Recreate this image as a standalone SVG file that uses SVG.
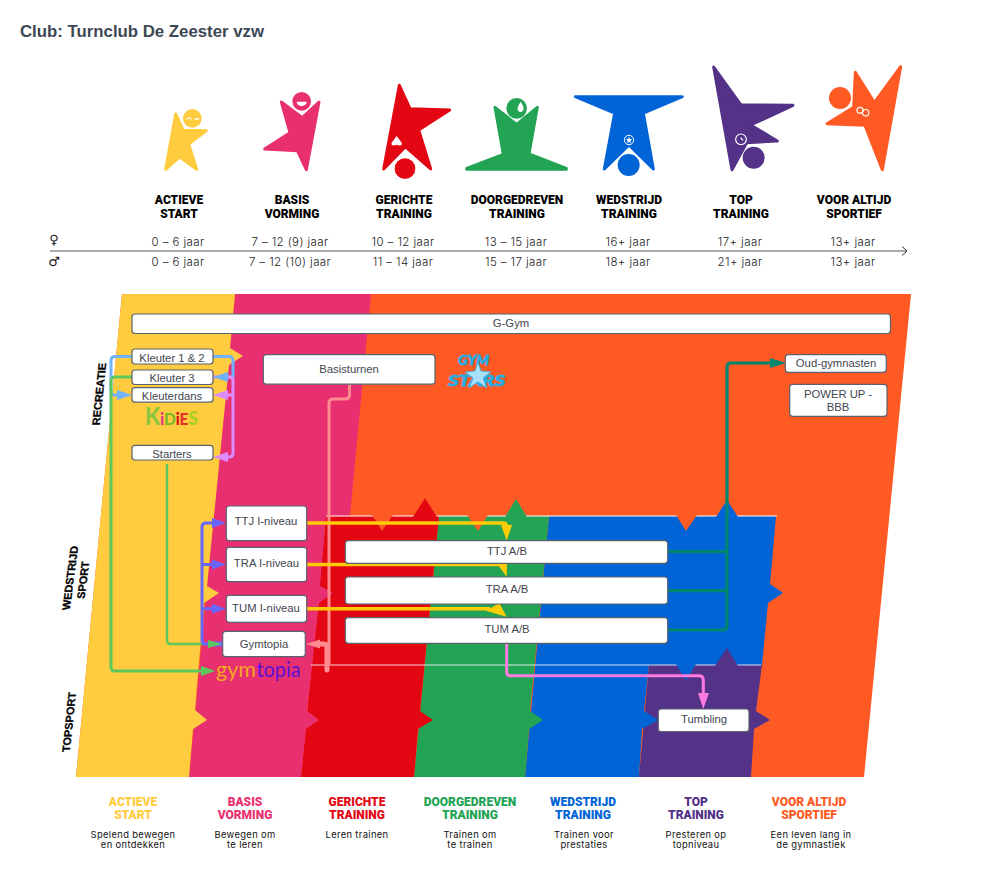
<svg xmlns="http://www.w3.org/2000/svg" width="991" height="888" viewBox="0 0 991 888">
<defs>
<style>
.box{fill:#fff;stroke:#5a6270;stroke-width:1.2}
.bt{font-family:"Liberation Sans",Arial,sans-serif;font-size:11.3px;fill:#3f4650;text-anchor:middle}
.hd{font-family:Roboto,"Liberation Sans",sans-serif;font-weight:900;font-size:12px;text-anchor:middle}
.age{font-family:Inter,"Noto Sans",sans-serif;font-weight:300;font-size:11.5px;letter-spacing:.4px;fill:#222;text-anchor:middle}
.ds{font-family:Inter,"Noto Sans",sans-serif;font-weight:400;font-size:9.4px;letter-spacing:.35px;fill:#111;text-anchor:middle}
.side{font-family:"Liberation Sans",Arial,sans-serif;font-weight:bold;font-size:11px;fill:#000;stroke:#000;stroke-width:.3;text-anchor:middle}
.c{fill:none;stroke-linejoin:round}
.fig{stroke-linejoin:round;stroke-width:9}
</style>
</defs>
<rect width="991" height="888" fill="#fff"/>
<text x="20" y="37" font-family="Liberation Sans,Arial,sans-serif" font-weight="bold" font-size="16.8" fill="#3d4854">Club: Turnclub De Zeester vzw</text>

<g id="figures" transform="translate(0,50) scale(0.33333)">
<g id="fig-actieve" fill="#ffcb3f" stroke="#ffcb3f">
<polygon class="fig" points="527,192 550,241 619,242 566,282 590,358 539,321 497,358"/>
<circle cx="577" cy="205" r="28" stroke="none"/>
<path d="M560,208q7,-9 14,0M584,207h13" fill="none" stroke="#fff" stroke-width="4"/>
</g>
<g id="fig-basis" fill="#e83070" stroke="#e83070">
<polygon class="fig" points="844,156 907,203 957,156 919,359 892,302 794,297 870,248"/>
<circle cx="905" cy="154" r="28" stroke="none"/>
<path d="M890,155h30a15,13 0 0 1 -30,0z" fill="#fff" stroke="none"/>
</g>
<g id="fig-gericht" fill="#e30613" stroke="#e30613">
<polygon class="fig" points="1198,106 1230,176 1349,180 1256,240 1292,357 1216,290 1151,357"/>
<circle cx="1215" cy="356" r="31" stroke="none"/>
<path d="M1190,258l15,20q3,10 -10,8l-5,-2l-5,2q-13,2 -10,-8z" fill="#fff" stroke="none"/>
</g>
<g id="fig-doorgedreven" fill="#23a455" stroke="#23a455" transform="translate(1470,0)">
<polygon class="fig" points="15,172 80,223 142,172 117,312 229,355 229,358 -70,358 -70,355 40,313"/>
<circle cx="80" cy="175" r="31" stroke="none"/>
<path d="M92,155q12,18 8,25a9,9 0 0 1 -17,0q-2,-8 9,-25z" fill="#fff" stroke="none"/>
</g>
<g id="fig-wedstrijd" fill="#0063d6" stroke="#0063d6" transform="translate(1470,0)">
<polygon class="fig" points="256,140 577,140 460,189 490,357 417,285 343,357 374,189"/>
<circle cx="416" cy="345" r="33" stroke="none"/>
<circle cx="417" cy="270" r="14" fill="none" stroke="#fff" stroke-width="3"/>
<polygon points="417,260 420,267 427,268 421,273 423,280 417,276 411,280 413,273 407,268 414,267" fill="#fff" stroke="none"/>
</g>
<g id="fig-top" fill="#533288" stroke="#533288" transform="translate(1470,0)">
<polygon class="fig" points="671,51 752,164 909,166 782,225 862,273 770,278 726,359"/>
<circle cx="791" cy="323" r="33" stroke="none"/>
<circle cx="753" cy="268" r="16" fill="#533288" stroke="#fff" stroke-width="3.5"/>
<path d="M752,263l7,8" stroke="#fff" stroke-width="4" fill="none"/>
</g>
<g id="fig-altijd" fill="#ff5a24" stroke="#ff5a24" transform="translate(1470,0)">
<polygon class="fig" points="1096,67 1153,158 1232,50 1177,359 1125,226 1011,221 1091,172"/>
<circle cx="1050" cy="144" r="33" stroke="none"/>
<circle cx="1110" cy="181" r="9" fill="none" stroke="#fff" stroke-width="3.500"/>
<circle cx="1127" cy="188" r="9.500" fill="none" stroke="#fff" stroke-width="3.500"/>
</g>
</g>

<g id="headings">
<text class="hd" x="179" y="204">ACTIEVE</text><text class="hd" x="179" y="218">START</text>
<text class="hd" x="292" y="204">BASIS</text><text class="hd" x="292" y="218">VORMING</text>
<text class="hd" x="404" y="204">GERICHTE</text><text class="hd" x="404" y="218">TRAINING</text>
<text class="hd" x="517" y="204">DOORGEDREVEN</text><text class="hd" x="517" y="218">TRAINING</text>
<text class="hd" x="629" y="204">WEDSTRIJD</text><text class="hd" x="629" y="218">TRAINING</text>
<text class="hd" x="741" y="204">TOP</text><text class="hd" x="741" y="218">TRAINING</text>
<text class="hd" x="854" y="204">VOOR ALTIJD</text><text class="hd" x="854" y="218">SPORTIEF</text>
</g>

<g id="axis">
<path d="M50,251H906" stroke="#8c8c8c" stroke-width="1.5" fill="none"/>
<path d="M902,246.500L907,251L902,255.500" stroke="#333" stroke-width="1" fill="none"/>
<text x="54" y="244" font-family="DejaVu Sans,sans-serif" font-size="13" text-anchor="middle" fill="#222">♀</text>
<text x="54" y="266" font-family="DejaVu Sans,sans-serif" font-size="13" text-anchor="middle" fill="#222">♂</text>
<g>
<text class="age" x="178" y="246">0 – 6 jaar</text><text class="age" x="178" y="266">0 – 6 jaar</text>
<text class="age" x="290" y="246">7 – 12 (9) jaar</text><text class="age" x="290" y="266">7 – 12 (10) jaar</text>
<text class="age" x="403" y="246">10 – 12 jaar</text><text class="age" x="403" y="266">11 – 14 jaar</text>
<text class="age" x="516" y="246">13 – 15 jaar</text><text class="age" x="516" y="266">15 – 17 jaar</text>
<text class="age" x="628" y="246">16+ jaar</text><text class="age" x="628" y="266">18+ jaar</text>
<text class="age" x="740" y="246">17+ jaar</text><text class="age" x="740" y="266">21+ jaar</text>
<text class="age" x="853" y="246">13+ jaar</text><text class="age" x="853" y="266">13+ jaar</text>
</g>
</g>

<g id="bands">
<polygon fill="#ff5a24" points="122,294 911,294 864,777 76,777"/>
<polygon fill="#533288" points="649,665 762,665 756,711 770,720 754,729 751,777 639,777"/>
<polygon fill="#0063d6" points="549,516 776,516 770,584 783,593 768,603 762,665 649,665 644,711 658,720 642,729 639,777 525,777"/>
<polygon fill="#23a455" points="439,516 549,516 530,711 543,720 529,729 525,777 414,777"/>
<polygon fill="#e30613" points="326,516 439,516 420,711 433,720 418,729 414,777 301,777"/>
<polygon fill="#e83070" points="235,294 371,294 350,516 326,516 320,586 333,593 319,603 307,711 319,720 306,729 301,777 189,777"/>
<polygon fill="#ffcb3f" points="122,294 235,294 230,348 243,356 229,365 207,586 219,593 204,603 195,710 207,720 193,729 189,777 76,777"/>
<path d="M326,516H777" stroke="#fff" stroke-width="1" fill="none"/>
<path d="M311,665H761" stroke="#fff" stroke-opacity=".55" stroke-width="1.5" fill="none"/>
<polygon fill="#ff5a24" points="372,515 393,515 382,531"/>
<polygon fill="#ff5a24" points="467,515 488,515 478,531"/>
<polygon fill="#ff5a24" points="676,515 697,515 686,531"/>
<polygon fill="#e30613" points="413,517 437,517 425,498"/>
<polygon fill="#23a455" points="505,517 527,517 516,499"/>
<polygon fill="#0063d6" points="716,517 738,517 727,500"/>
<polygon fill="#0063d6" points="676,664 696,664 686,680"/>
<polygon fill="#533288" points="715,666 738,666 727,648"/>
</g>

<g id="connectors">
<g class="c">
<path d="M349.500,384V395Q349.500,399 345,399H333Q329,399 329,403V664" stroke="#ff8a8f" stroke-width="3"/>
<path d="M318,644H324Q327,644 327,648V670" stroke="#ff8a8f" stroke-width="5" stroke-linecap="round"/>
<path d="M132,356.500H115Q111,356.500 111,361V391Q111,395 115,395H120" stroke="#70b2ff" stroke-width="3"/>
<path d="M213,356.500H229Q233,356.500 233,361V377H225" stroke="#70b2ff" stroke-width="3"/>
<path d="M132,377H115Q111,377 111,381V667Q111,671 115,671H204" stroke="#5cc85e" stroke-width="3"/>
<path d="M167,464V640Q167,644 171,644H212" stroke="#5cc85e" stroke-width="2.500"/>
<path d="M213,377H229Q233,377 233,381V453Q233,457 229,457H224M233,395H224" stroke="#dd8cff" stroke-width="3"/>
<path d="M223,644H206Q202,644 202,640V527Q202,523 206,523H214M202,564.500H214M202,608.700H214" stroke="#6767ff" stroke-width="3"/>
<path d="M208,644H223" stroke="#6767ff" stroke-width="5"/>
<path d="M306.700,523H503Q506.700,523 506.700,527V528" stroke="#ffcb05" stroke-width="3.400"/>
<path d="M306.700,564.500H503" stroke="#ffcb05" stroke-width="3.400"/>
<path d="M306.700,608.700H490" stroke="#ffcb05" stroke-width="3.400"/>
<path d="M506.700,643.300V672Q506.700,675.700 510,675.700H699Q703.300,675.700 703.300,680V695" stroke="#ff7ae0" stroke-width="3"/>
<path d="M668,551.700H727M668,590.700H727M668,630H723Q727,630 727,626V367Q727,363 731,363H772" stroke="#008570" stroke-width="3.200"/>
</g>
<polygon fill="#70b2ff" points="132,395 117,390 117,400"/>
<polygon fill="#70b2ff" points="213,377 228,372 228,382"/>
<polygon fill="#dd8cff" points="213,395 228,390 228,400"/>
<polygon fill="#dd8cff" points="213,457 228,452 228,462"/>
<polygon fill="#5cc85e" points="215.500,671 201,666 201,676"/>
<polygon fill="#5cc85e" points="222,644 208,640 208,648"/>
<polygon fill="#6767ff" points="226,523 212,518 212,528"/>
<polygon fill="#6767ff" points="226,564.500 212,559.500 212,569.500"/>
<polygon fill="#6767ff" points="226,608.700 212,603.700 212,613.700"/>
<polygon fill="#ffcb05" points="506.700,540.500 501,525 512,525"/>
<polygon fill="#ffcb05" points="506.700,576.700 498,565 507,561.700"/>
<polygon fill="#ffcb05" points="506.700,616.700 499.300,603.300 485.700,610.700"/>
<polygon fill="#ff7ae0" points="703.300,709 698,693 709,693"/>
<polygon fill="#008570" points="786,363 770,358 770,368"/>
<polygon fill="#ff8a8f" points="306,644 320,639.500 320,648.500"/>
</g>

<g id="n-ggym"><rect class="box" x="132" y="314" width="758.500" height="19.500" rx="3"/><text class="bt" x="511" y="327">G-Gym</text></g>
<g id="n-kleuter12"><rect class="box" x="132" y="349" width="81" height="15" rx="3"/><text class="bt" x="172" y="361.500">Kleuter 1 &amp; 2</text></g>
<g id="n-kleuter3"><rect class="box" x="132" y="370" width="81" height="14.500" rx="3"/><text class="bt" x="172" y="382">Kleuter 3</text></g>
<g id="n-kleuterdans"><rect class="box" x="132" y="387.700" width="81" height="14.500" rx="3"/><text class="bt" x="172" y="400">Kleuterdans</text></g>
<g id="n-starters"><rect class="box" x="132" y="445.300" width="81" height="14.700" rx="3"/><text class="bt" x="172" y="457.500">Starters</text></g>
<g id="n-basisturnen"><rect class="box" x="263.300" y="354.700" width="171.700" height="29.500" rx="3"/><text class="bt" x="349" y="372.500">Basisturnen</text></g>
<g id="n-ttji"><rect class="box" x="226.300" y="506" width="80.400" height="34.700" rx="3"/><text class="bt" x="266" y="525">TTJ I-niveau</text></g>
<g id="n-trai"><rect class="box" x="226.300" y="547.300" width="80.400" height="34.400" rx="3"/><text class="bt" x="266.500" y="566.500">TRA I-niveau</text></g>
<g id="n-tumi"><rect class="box" x="226.300" y="595.300" width="80.400" height="27" rx="3"/><text class="bt" x="266" y="611.500">TUM I-niveau</text></g>
<g id="n-gymtopia"><rect class="box" x="222.700" y="631.300" width="82.600" height="25.400" rx="3"/><text class="bt" x="264" y="647.500">Gymtopia</text></g>
<g id="n-ttjab"><rect class="box" x="345.300" y="540.700" width="322.400" height="22.600" rx="3"/><text class="bt" x="507" y="555">TTJ A/B</text></g>
<g id="n-traab"><rect class="box" x="345.300" y="577" width="322.400" height="27" rx="3"/><text class="bt" x="507" y="593.300">TRA A/B</text></g>
<g id="n-tumab"><rect class="box" x="345.300" y="617.700" width="322.400" height="25.600" rx="3"/><text class="bt" x="507" y="633.300">TUM A/B</text></g>
<g id="n-tumbling"><rect class="box" x="658.300" y="709" width="90.700" height="22.700" rx="3"/><text class="bt" x="704" y="723.300">Tumbling</text></g>
<g id="n-oud"><rect class="box" x="785.300" y="354.700" width="101" height="17.600" rx="3"/><text class="bt" x="836" y="367">Oud-gymnasten</text></g>
<g id="n-power"><rect class="box" x="789.700" y="384.300" width="97.300" height="32" rx="3"/><text class="bt" x="838" y="398">POWER UP -</text><text class="bt" x="838" y="411">BBB</text></g>

<g id="logo-kidies">
<text x="145" y="425" font-family="Lato,Roboto,sans-serif" font-weight="900" font-size="17" textLength="53" lengthAdjust="spacingAndGlyphs"><tspan font-size="24" fill="#8cc63f">K</tspan><tspan fill="#e8308a">i</tspan><tspan fill="#7ab829">D</tspan><tspan fill="#e30613">i</tspan><tspan fill="#e8302a">E</tspan><tspan font-size="19" fill="#a8d020">S</tspan></text>
</g>
<g id="logo-gymstars" font-family="Lato,Roboto,sans-serif" font-weight="900" font-style="italic" fill="#29abe2" stroke="#29abe2" stroke-width=".8">
<text x="458" y="365" font-size="13.500" textLength="31" lengthAdjust="spacingAndGlyphs">GYM</text>
<text x="448" y="386" font-size="15" textLength="57" lengthAdjust="spacingAndGlyphs">STARS</text>
<polygon points="478,362 481,371 491,372 483,378 487,388 478,382 469,388 473,378 465,372 475,371" fill="#a8e0fa" stroke="#29abe2"/>
</g>
<g id="logo-gymtopia" font-family="Lato,Roboto,sans-serif" font-size="21" font-weight="400">
<text x="216" y="677" fill="#f5a623" textLength="40" lengthAdjust="spacingAndGlyphs">gym</text>
<text x="256.500" y="677" fill="#5a12d6" textLength="44" lengthAdjust="spacingAndGlyphs">topia</text>
</g>

<g id="side-labels">
<text class="side" transform="matrix(.1045,-.9945,1,0,103,394)">RECREATIE</text>
<text class="side" transform="matrix(.1305,-.9914,1,0,74,578)">WEDSTRIJD</text>
<text class="side" transform="matrix(.1305,-.9914,1,0,87,580)">SPORT</text>
<text class="side" transform="matrix(.1045,-.9945,1,0,73,722)">TOPSPORT</text>
</g>

<g id="legend">
<text class="hd" x="133" y="806" fill="#ffcb3f">ACTIEVE</text><text class="hd" x="133" y="819" fill="#ffcb3f">START</text>
<text class="hd" x="245" y="806" fill="#e83070">BASIS</text><text class="hd" x="245" y="819" fill="#e83070">VORMING</text>
<text class="hd" x="357" y="806" fill="#e30613">GERICHTE</text><text class="hd" x="357" y="819" fill="#e30613">TRAINING</text>
<text class="hd" x="470" y="806" fill="#23a455">DOORGEDREVEN</text><text class="hd" x="470" y="819" fill="#23a455">TRAINING</text>
<text class="hd" x="583" y="806" fill="#0063d6">WEDSTRIJD</text><text class="hd" x="583" y="819" fill="#0063d6">TRAINING</text>
<text class="hd" x="696" y="806" fill="#533288">TOP</text><text class="hd" x="696" y="819" fill="#533288">TRAINING</text>
<text class="hd" x="809" y="806" fill="#ff5a24">VOOR ALTIJD</text><text class="hd" x="809" y="819" fill="#ff5a24">SPORTIEF</text>
<text class="ds" x="133" y="837.500">Spelend bewegen</text><text class="ds" x="133" y="848">en ontdekken</text>
<text class="ds" x="245" y="837.500">Bewegen om</text><text class="ds" x="245" y="848">te leren</text>
<text class="ds" x="357" y="837.500">Leren trainen</text>
<text class="ds" x="470" y="837.500">Trainen om</text><text class="ds" x="470" y="848">te trainen</text>
<text class="ds" x="584" y="837.500">Trainen voor</text><text class="ds" x="584" y="848">prestaties</text>
<text class="ds" x="696" y="837.500">Presteren op</text><text class="ds" x="696" y="848">topniveau</text>
<text class="ds" x="811" y="837.500">Een leven lang in</text><text class="ds" x="811" y="848">de gymnastiek</text>
</g>
</svg>
